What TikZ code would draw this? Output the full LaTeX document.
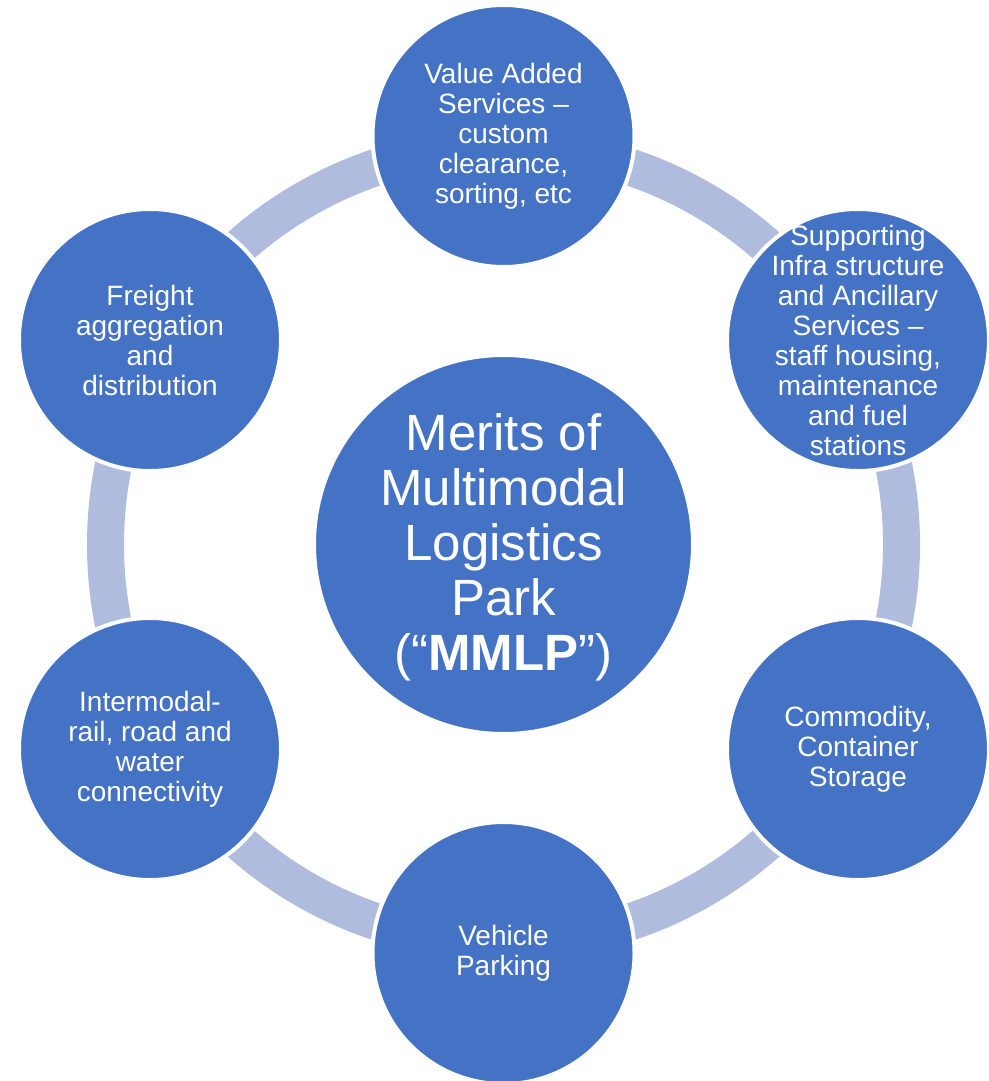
\documentclass[tikz,border=0pt]{standalone}
\usepackage{fontspec}
\setmainfont{Liberation Sans}
\definecolor{mblue}{HTML}{4472C4}
\definecolor{ringc}{HTML}{AFBCDE}
\begin{document}
\begin{tikzpicture}[x=1pt,y=-1pt,
  outer/.style={circle, fill=mblue, draw=white, line width=4pt, minimum size=262pt, inner sep=0pt},
  hub/.style={circle, fill=mblue, draw=white, line width=4pt, minimum size=379pt, inner sep=0pt},
  smalltxt/.style={align=center, text=white, inner sep=0pt, font=\fontsize{28}{30}\selectfont},
  bigtxt/.style={align=center, text=white, inner sep=0pt, font=\fontsize{51}{55}\selectfont},
  band/.style={draw=ringc, line width=37pt}]
\useasboundingbox (0,0) rectangle (988,1081);
\coordinate (c) at (503.5,544.5);
\draw[band] (c) circle[radius=398];
\node[hub] (hub) at (c) {};
\node[outer] (top) at (503.5,136) {};
\node[outer] (ur) at (858,340) {};
\node[outer] (lr) at (858,749) {};
\node[outer] (bot) at (503.5,953) {};
\node[outer] (ll) at (150,749) {};
\node[outer] (ul) at (150,340) {};
\node[bigtxt] (hubt) at ([yshift=-3pt]hub.center) {Merits of\\Multimodal\\Logistics\\Park\\(“\textbf{MMLP}”)};
\node[smalltxt] (topt) at (top.center) {Value Added\\Services –\\custom\\clearance,\\sorting, etc};
\node[smalltxt] (urt) at (ur.center) {Supporting\\Infra structure\\and Ancillary\\Services –\\staff housing,\\maintenance\\and fuel\\stations};
\node[smalltxt] (lrt) at (lr.center) {Commodity,\\Container\\Storage};
\node[smalltxt] (bott) at (bot.center) {Vehicle\\Parking};
\node[smalltxt] (llt) at (ll.center) {Intermodal-\\rail, road and\\water\\connectivity};
\node[smalltxt] (ult) at (ul.center) {Freight\\aggregation\\and\\distribution};
\end{tikzpicture}
\end{document}
